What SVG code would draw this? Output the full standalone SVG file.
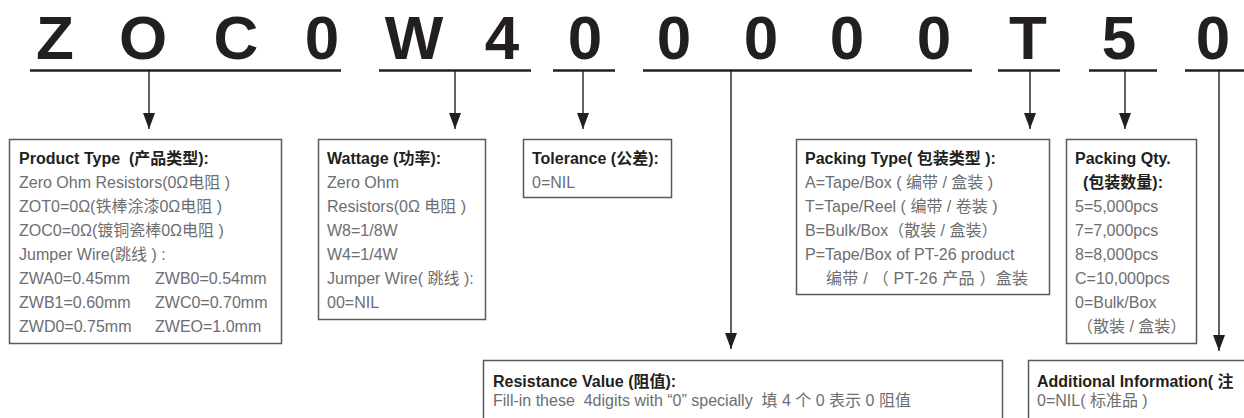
<svg xmlns="http://www.w3.org/2000/svg" width="1244" height="418" viewBox="0 0 1244 418">
<style>
  .code{font-family:"Liberation Sans",Arial,sans-serif;font-weight:700;font-size:62px;fill:#231f20;text-anchor:middle}
  .ttl{font-family:"Liberation Sans","Noto Sans CJK SC",sans-serif;font-weight:700;font-size:16px;fill:#231f20;white-space:pre}
  .txt{font-family:"Liberation Sans","Noto Sans CJK SC",sans-serif;font-size:16px;fill:#6d6e71;white-space:pre}
  .box{fill:#fff;stroke:#58595b;stroke-width:1.5}
  .ul{stroke:#231f20;stroke-width:2.6;fill:none}
  .arr{stroke:#231f20;stroke-width:1.4;fill:none;marker-end:url(#ah)}
</style>
<defs>
  <marker id="ah" viewBox="0 0 16 12" refX="16" refY="6" markerWidth="16" markerHeight="12" markerUnits="userSpaceOnUse" orient="auto">
    <path d="M0,0 L16,6 L0,12 z" fill="#231f20"/>
  </marker>
</defs>
<rect width="1244" height="418" fill="#fff"/>

<g id="code">
  <text class="code" x="55" y="58.5">Z</text>
  <text class="code" x="143" y="58.5">O</text>
  <text class="code" x="236" y="58.5">C</text>
  <text class="code" x="322" y="58.5">0</text>
  <text class="code" x="414" y="58.5">W</text>
  <text class="code" x="502" y="58.5">4</text>
  <text class="code" x="585" y="58.5">0</text>
  <text class="code" x="674" y="58.5">0</text>
  <text class="code" x="761" y="58.5">0</text>
  <text class="code" x="847" y="58.5">0</text>
  <text class="code" x="934" y="58.5">0</text>
  <text class="code" x="1028" y="58.5">T</text>
  <text class="code" x="1119" y="58.5">5</text>
  <text class="code" x="1213" y="58.5">0</text>
</g>

<g id="connectors">
  <line class="ul" x1="30" y1="70.5" x2="341" y2="70.5"/>
  <line class="ul" x1="379" y1="70.5" x2="531" y2="70.5"/>
  <line class="ul" x1="553" y1="70.5" x2="615" y2="70.5"/>
  <line class="ul" x1="643" y1="70.5" x2="972" y2="70.5"/>
  <line class="ul" x1="998" y1="70.5" x2="1060" y2="70.5"/>
  <line class="ul" x1="1089" y1="70.5" x2="1157" y2="70.5"/>
  <line class="ul" x1="1185" y1="70.5" x2="1244" y2="70.5"/>
  <line class="arr" x1="149" y1="71" x2="149" y2="129"/>
  <line class="arr" x1="455" y1="71" x2="455" y2="129"/>
  <line class="arr" x1="583" y1="71" x2="583" y2="129"/>
  <line class="arr" x1="731" y1="71" x2="731" y2="349"/>
  <line class="arr" x1="1030" y1="71" x2="1030" y2="129"/>
  <line class="arr" x1="1125" y1="71" x2="1125" y2="129"/>
  <line class="arr" x1="1219" y1="71" x2="1219" y2="351"/>
</g>

<g id="product-type">
  <rect class="box" x="9.5" y="139.5" width="272" height="204"/>
  <text class="ttl" x="19" y="163.8">Product Type  (产品类型):</text>
  <text class="txt" x="19" y="187.9">Zero Ohm Resistors(0Ω电阻 )</text>
  <text class="txt" x="19" y="211.9">ZOT0=0Ω(铁棒涂漆0Ω电阻 )</text>
  <text class="txt" x="19" y="236">ZOC0=0Ω(镀铜瓷棒0Ω电阻 )</text>
  <text class="txt" x="19" y="260">Jumper Wire(跳线 ) :</text>
  <text class="txt" x="19" y="284">ZWA0=0.45mm</text>
  <text class="txt" x="155" y="284">ZWB0=0.54mm</text>
  <text class="txt" x="19" y="308">ZWB1=0.60mm</text>
  <text class="txt" x="155" y="308">ZWC0=0.70mm</text>
  <text class="txt" x="19" y="332">ZWD0=0.75mm</text>
  <text class="txt" x="155" y="332">ZWEO=1.0mm</text>
</g>

<g id="wattage">
  <rect class="box" x="318.5" y="139.5" width="167" height="180"/>
  <text class="ttl" x="327" y="163.8">Wattage (功率):</text>
  <text class="txt" x="327" y="187.9">Zero Ohm</text>
  <text class="txt" x="327" y="211.9">Resistors(0Ω 电阻 )</text>
  <text class="txt" x="327" y="236">W8=1/8W</text>
  <text class="txt" x="327" y="260">W4=1/4W</text>
  <text class="txt" x="327" y="284">Jumper Wire( 跳线 ):</text>
  <text class="txt" x="327" y="308">00=NIL</text>
</g>

<g id="tolerance">
  <rect class="box" x="523.5" y="139.5" width="148" height="58"/>
  <text class="ttl" x="532" y="163.8">Tolerance (公差):</text>
  <text class="txt" x="532" y="187.9">0=NIL</text>
</g>

<g id="packing-type">
  <rect class="box" x="796.5" y="139.5" width="253" height="155"/>
  <text class="ttl" x="805" y="163.8">Packing Type( 包装类型 ):</text>
  <text class="txt" x="805" y="187.9">A=Tape/Box ( 编带 / 盒装 )</text>
  <text class="txt" x="805" y="211.9">T=Tape/Reel ( 编带 / 卷装 )</text>
  <text class="txt" x="805" y="236">B=Bulk/Box（散装 / 盒装）</text>
  <text class="txt" x="805" y="260">P=Tape/Box of PT-26 product</text>
  <text class="txt" x="826" y="284" textLength="202" lengthAdjust="spacing">编带 / （ PT-26 产品 ）盒装</text>
</g>

<g id="packing-qty">
  <rect class="box" x="1066.5" y="139.5" width="130" height="204"/>
  <text class="ttl" x="1075" y="163.8">Packing Qty.</text>
  <text class="ttl" x="1083" y="187.9">(包装数量):</text>
  <text class="txt" x="1075" y="211.9">5=5,000pcs</text>
  <text class="txt" x="1075" y="236">7=7,000pcs</text>
  <text class="txt" x="1075" y="260">8=8,000pcs</text>
  <text class="txt" x="1075" y="284">C=10,000pcs</text>
  <text class="txt" x="1075" y="308">0=Bulk/Box</text>
  <text class="txt" x="1077" y="332">（散装 / 盒装）</text>
</g>

<g id="resistance-value">
  <rect class="box" x="483.5" y="360.5" width="519" height="80"/>
  <text class="ttl" x="493" y="386.5">Resistance Value (阻值):</text>
  <text class="txt" x="493" y="406">Fill-in these  4digits with “0” specially  填 4 个 0 表示 0 阻值</text>
</g>

<g id="additional-information">
  <rect class="box" x="1028.5" y="360.5" width="230" height="80"/>
  <text class="ttl" x="1037" y="386.5">Additional Information( 注</text>
  <text class="txt" x="1037" y="406">0=NIL( 标准品 )</text>
</g>
</svg>
